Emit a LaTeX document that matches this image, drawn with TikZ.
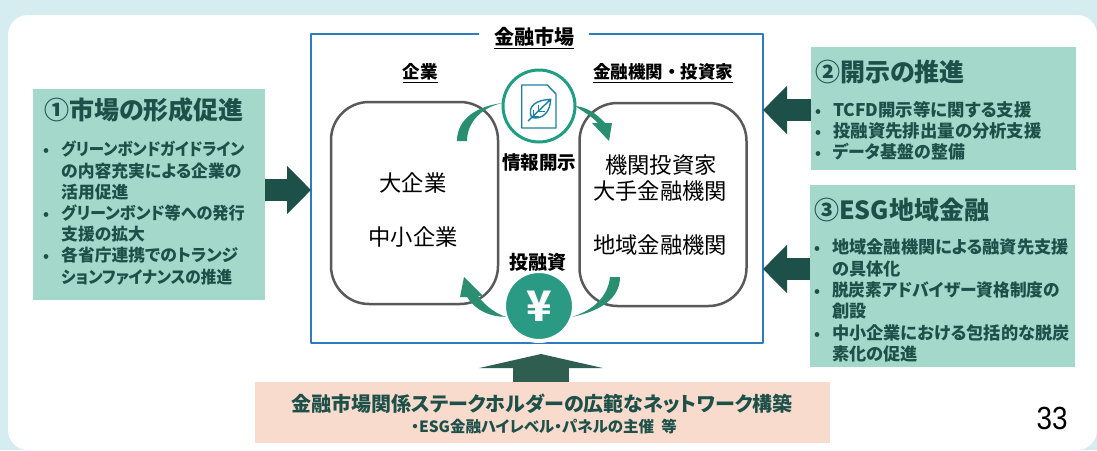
\documentclass[tikz,border=0pt]{standalone}
\usepackage{fontspec}
\setmainfont{Noto Sans CJK JP}[RawFeature=+palt]
\newfontfamily\fullfont{Noto Sans CJK JP}
\newfontfamily\numfont{Liberation Sans}
\usetikzlibrary{arrows.meta}
\definecolor{panelbg}{HTML}{D5EDF0}
\definecolor{boxgreen}{HTML}{A3D8CB}
\definecolor{boxpink}{HTML}{F8DBCD}
\definecolor{darkgreen}{HTML}{1D5049}
\definecolor{upgreen}{HTML}{2F5E50}
\definecolor{framblue}{HTML}{2E7CBF}
\definecolor{roundgrey}{HTML}{595959}
\definecolor{ringgreen}{HTML}{1F9E84}
\definecolor{yengreen}{HTML}{2A9A84}
\definecolor{curvegreen}{HTML}{2A8F70}
\definecolor{docblue}{HTML}{1F7FA0}
\newcommand{\bl}{\llap{{\fontsize{15}{15}\selectfont\textbullet}\hspace{12pt}}}
\newcommand{\nar}[2]{\scalebox{#1}[1]{#2}}
\begin{document}
\begin{tikzpicture}[x=1pt,y=-1pt,line join=round,
 greenbox/.style={fill=boxgreen,inner sep=0pt,outer sep=0pt},
 roundbox/.style={draw=roundgrey,line width=2.5pt,rounded corners=38pt,inner sep=0pt,outer sep=0pt,minimum width=167pt},
 boxtitle/.style={anchor=west,inner sep=0pt,text=darkgreen,font=\bfseries\fontsize{25}{30}\selectfont},
 boxlist/.style={anchor=north west,inner sep=0pt,align=left,text=darkgreen,font=\bfseries\fontsize{16.8}{21.2}\selectfont},
 head/.style={inner sep=0pt,font=\fullfont\bfseries\fontsize{17.5}{21}\selectfont},
 market/.style={inner sep=0pt,font=\fullfont\fontsize{22.3}{26}\selectfont},
 blockarrow/.style={draw=darkgreen,line width=22pt,-{Triangle[length=24pt,width=47pt,fill=darkgreen]},shorten >=0pt},
 curve/.style={fill=curvegreen}]
 \useasboundingbox (0,0) rectangle (1097,450);
 \fill[panelbg] (0,0) rectangle (1097,450);
 \fill[white,rounded corners=20pt] (8,15) rectangle (1097,450);

 \node[draw=framblue,line width=2pt,minimum width=452pt,minimum height=309pt,inner sep=0pt,outer sep=0pt] (frame) at (537,188.5) {};
 \node[fill=white,inner sep=0pt,minimum width=110pt,minimum height=24pt,font=\fullfont\bfseries\fontsize{20}{23}\selectfont] (title) at (534,38) {\underline{金融市場}};
 \node[head] (kigyo) at (420,73) {\underline{企業}};
 \node[head] (kikan) at (663,73) {\underline{金融機関・投資家}};

 \node[roundbox,minimum height=202pt] (left) at (414.5,203) {};
 \node[roundbox,minimum height=203pt] (right) at (663,204.5) {};
 \node[market] (daikigyo) at (413,183) {大企業};
 \node[market] (chusho) at (413,237) {中小企業};
 \node[market] (toshika) at (661,165) {機関投資家};
 \node[market] (oote) at (660,191) {大手金融機関};
 \node[market] (chiiki) at (660,245) {地域金融機関};

 \node[circle,draw=ringgreen,fill=white,line width=3pt,minimum size=72pt,inner sep=0pt,outer sep=0pt] (doc) at (539,106) {};
 \node[circle,draw=white,fill=yengreen,line width=4pt,minimum size=70pt,inner sep=0pt,outer sep=0pt,text=white,font=\bfseries\fontsize{42}{44}\selectfont] (yen) at (539,306) {¥};
 \node[inner sep=0pt,font=\fullfont\bfseries\fontsize{18.5}{22}\selectfont] (joho) at (539,162) {情報開示};
 \node[inner sep=0pt,font=\fullfont\bfseries\fontsize{19}{22}\selectfont] (yushi) at (538,262) {投融資};

 \draw[docblue,line width=1.4pt] (521.7,85) -- (547.3,85) -- (556,94) -- (556,128) -- (521.7,128) -- cycle;
 \draw[docblue,line width=1.4pt] (528,121) -- (550.7,99.3) .. controls (536,100) and (527,106) .. (531.5,117.5) .. controls (543,120) and (550,112) .. (550.7,99.3);
 \draw[docblue,line width=1pt] (538,111.5) -- (538,104.5) (538,111.5) -- (545,111.5) (533,116) -- (533,110) (533,116) -- (539,116);

 \fill[curve] (doc.175) .. controls (482,107) and (467,122) .. (467,141) -- (457,141) .. controls (457,118) and (478,106) .. (doc.175) -- cycle;
 \fill[curve] (doc.0) .. controls (586,107) and (596,113) .. (605,123) -- (612,123) -- (609,141) -- (592,123) -- (598,123) .. controls (591,116) and (584,112) .. (doc.0) -- cycle;
 \fill[curve] (yen.198) .. controls (497,314) and (486,307) .. (478,296) -- (483,296) -- (464,277) -- (460,297) -- (467,297) .. controls (475,310) and (490,317) .. (yen.198) -- cycle;
 \fill[curve] (yen.-18) .. controls (601,311) and (620,298) .. (620,277) -- (610,277) .. controls (608,296) and (594,310) .. (yen.-18) -- cycle;

 \node[greenbox,minimum width=232pt,minimum height=211pt] (shijo) at (149,194.5) {};
 \node[boxtitle] (shijot) at (44,110) {①市場の形成促進};
 \node[boxlist] (shijol) at (61,141) {\bl \nar{.92}{グリーンボンドガイドライン}\\の内容充実による企業の\\活用促進\\\bl \nar{.96}{グリーンボンド等への発行}\\支援の拡大\\\bl 各省庁連携でのトランジ\\\nar{.93}{ションファイナンスの推進}};

 \node[greenbox,minimum width=265pt,minimum height=123pt] (kaiji) at (943.5,108.5) {};
 \node[boxtitle] (kaijit) at (815,72) {②開示の推進};
 \node[boxlist,font=\bfseries\fontsize{17.4}{21.2}\selectfont] (kaijil) at (833,101) {\bl TCFD開示等に関する支援\\\bl 投融資先排出量の分析支援\\\bl \nar{.97}{データ基盤の整備}};

 \node[greenbox,minimum width=265pt,minimum height=182pt] (esg) at (942.5,276) {};
 \node[boxtitle] (esgt) at (814,210) {③ESG地域金融};
 \node[boxlist,font=\bfseries\fontsize{17.2}{21.3}\selectfont] (esgl) at (832,239) {\bl 地域金融機関による融資先支援\\の具体化\\\bl \nar{.97}{脱炭素アドバイザー資格制度の}\\創設\\\bl 中小企業における包括的な脱炭\\素化の促進};

 \node[fill=boxpink,inner sep=0pt,outer sep=0pt,minimum width=575pt,minimum height=61pt] (network) at (542.5,412.5) {};
 \node[inner sep=0pt,text=darkgreen,font=\bfseries\fontsize{20}{23}\selectfont] (networkt) at (542,404) {金融市場関係ステークホルダーの広範なネットワーク構築};
 \node[inner sep=0pt,text=darkgreen,font=\bfseries\fontsize{15.5}{18}\selectfont] (networks) at (544,427) {・ESG金融ハイレベル・パネルの主催\ \ 等};

 \draw[blockarrow] (shijo.east|-0,190) -- (frame.west|-0,190);
 \draw[blockarrow] (kaiji.west|-0,110) -- (frame.east|-0,110);
 \draw[blockarrow] (esg.west|-0,269) -- (frame.east|-0,269);
 \draw[draw=upgreen,line width=56pt,-{Triangle[length=14pt,width=123pt,fill=upgreen]}] (network.north-|541,0) -- (541,354);

 \node[inner sep=0pt,font=\numfont\fontsize{32}{36}\selectfont] (page) at (1052,418) {\nar{.87}{33}};
\end{tikzpicture}
\end{document}
